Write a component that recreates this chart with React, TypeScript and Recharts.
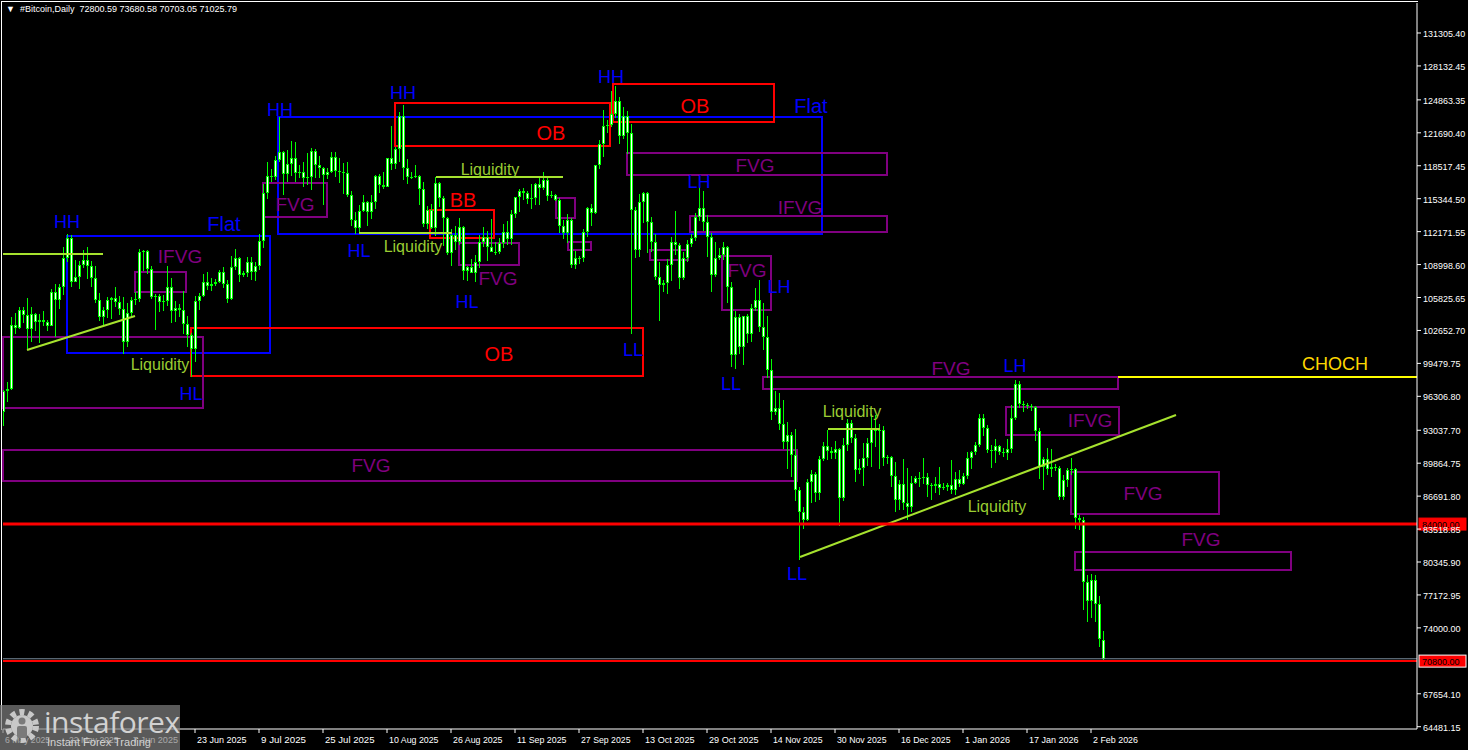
import React from "react";
import {
  ComposedChart,
  Bar,
  XAxis,
  YAxis,
  ReferenceArea,
  ReferenceLine,
  ReferenceDot,
} from "recharts";

const FONT = "'Liberation Sans', Arial, sans-serif";

// daily #Bitcoin candles, day 0 = 6 May 2025, prices in thousands of USD
const opens = [
  94.8, 96.8, 97.0, 103.2, 102.9, 104.6, 104.1, 102.8, 104.2, 103.5,
  103.7, 103.5, 103.1, 106.4, 105.6, 106.8, 109.6, 111.6, 107.3, 107.8,
  109.0, 109.4, 108.9, 107.7, 105.6, 103.9, 104.6, 105.6, 105.8, 105.4,
  104.7, 101.5, 104.3, 105.6, 105.7, 110.2, 110.3, 108.6, 105.9, 106.0,
  105.4, 105.5, 106.8, 104.5, 104.8, 104.6, 103.3, 102.2, 100.9, 105.5,
  106.0, 107.3, 106.9, 107.1, 107.3, 108.3, 107.1, 105.7, 108.8, 109.6,
  108.0, 108.2, 109.2, 108.3, 108.9, 111.3, 115.9, 117.5, 117.4, 119.1,
  119.8, 117.7, 118.7, 119.3, 117.8, 117.9, 117.3, 117.4, 119.9, 118.6,
  118.3, 117.6, 117.9, 119.4, 118.0, 117.9, 117.8, 115.7, 113.3, 112.5,
  114.2, 115.0, 114.1, 115.0, 117.5, 116.7, 116.5, 119.3, 118.7, 120.1,
  123.3, 118.3, 117.4, 117.4, 117.5, 116.3, 112.9, 114.3, 112.5, 116.9,
  115.4, 113.5, 110.1, 111.8, 111.2, 112.6, 108.4, 108.8, 108.2, 109.2,
  111.2, 111.7, 110.7, 110.2, 110.2, 111.1, 112.1, 111.5, 113.9, 115.5,
  116.1, 115.9, 115.3, 115.4, 116.8, 116.4, 117.1, 115.6, 115.7, 115.2,
  112.7, 112.0, 113.3, 109.0, 109.6, 109.6, 112.1, 114.4, 114.0, 118.6,
  120.6, 122.3, 122.4, 123.5, 124.8, 121.4, 123.3, 121.7, 114.3, 110.4,
  115.0, 115.9, 113.1, 111.2, 107.8, 107.0, 107.2, 109.0, 111.2, 110.9,
  107.7, 109.6, 111.0, 111.6, 113.6, 114.4, 113.1, 111.7, 108.0, 109.6,
  109.9, 110.7, 106.8, 100.3, 103.9, 101.1, 104.0, 102.3, 104.8, 105.6,
  103.0, 102.0, 98.8, 94.8, 95.2, 93.6, 91.9, 92.6, 90.7, 87.3,
  85.2, 84.4, 88.1, 88.8, 87.0, 90.3, 91.5, 91.0, 90.8, 91.2,
  86.5, 91.6, 93.7, 92.3, 89.2, 89.4, 90.4, 91.8, 93.3, 93.0,
  93.1, 90.4, 90.5, 88.6, 86.3, 87.9, 86.0, 85.6, 88.0, 88.4,
  88.4, 88.5, 87.8, 87.7, 87.9, 87.5, 87.6, 87.8, 87.3, 88.3,
  87.9, 88.6, 90.4, 90.9, 91.6, 94.2, 93.3, 91.1, 91.0, 91.5,
  90.9, 90.8, 91.2, 94.2, 97.5, 95.6, 95.5, 95.4, 95.3, 93.0,
  89.5, 90.3, 89.3, 89.5, 89.4, 86.6, 88.2, 89.2, 89.3, 84.6,
  84.4, 78.4, 76.6, 78.6, 76.3, 72.80059,
];

const highs = [
  96.9, 97.7, 103.9, 104.3, 104.9, 104.9, 105.8, 104.9, 104.3, 104.2,
  104.5, 103.7, 106.6, 107.1, 107.1, 110.7, 111.9, 111.8, 109.4, 109.3,
  110.4, 110.7, 109.3, 108.9, 106.3, 104.9, 105.9, 105.9, 106.8, 106.0,
  105.9, 105.3, 105.9, 106.4, 110.5, 110.4, 110.4, 108.9, 106.2, 106.2,
  106.1, 108.9, 107.7, 105.5, 105.2, 106.5, 104.0, 102.4, 106.0, 106.3,
  108.1, 108.3, 107.7, 107.6, 108.5, 108.8, 107.5, 109.8, 110.5, 109.7,
  108.4, 109.7, 109.7, 109.2, 111.9, 116.8, 118.9, 118.2, 119.5, 123.2,
  119.9, 120.0, 120.9, 120.8, 118.6, 118.9, 119.7, 120.2, 120.1, 119.5,
  118.4, 118.3, 119.8, 119.8, 119.3, 118.8, 118.9, 116.1, 114.1, 114.7,
  115.7, 115.1, 115.7, 117.6, 117.7, 117.9, 119.3, 122.3, 120.3, 123.7,
  124.4, 119.2, 117.9, 118.6, 117.6, 117.0, 114.6, 114.8, 117.4, 117.0,
  115.6, 113.6, 112.4, 112.7, 113.5, 112.7, 108.9, 109.5, 109.9, 111.8,
  112.6, 112.2, 113.4, 111.2, 111.6, 112.9, 113.2, 114.3, 115.5, 116.3,
  116.4, 116.1, 116.8, 116.9, 117.3, 117.9, 117.4, 116.1, 115.8, 115.4,
  113.3, 113.9, 113.5, 110.3, 109.8, 112.4, 114.5, 114.8, 118.6, 121.0,
  123.9, 122.9, 125.7, 126.2, 125.1, 124.2, 123.8, 122.5, 114.5, 115.8,
  116.0, 116.0, 113.6, 111.9, 109.2, 107.5, 109.5, 111.7, 114.2, 111.1,
  110.2, 111.4, 111.9, 114.0, 116.5, 116.1, 113.8, 112.0, 111.2, 110.6,
  111.2, 110.8, 107.3, 104.5, 104.2, 104.0, 104.2, 105.2, 106.7, 107.5,
  105.3, 104.0, 99.9, 96.8, 96.6, 96.0, 93.8, 92.9, 93.2, 87.6,
  85.6, 88.3, 89.2, 89.0, 90.6, 91.9, 93.1, 91.4, 92.0, 91.3,
  92.3, 94.1, 94.0, 92.7, 90.3, 91.8, 92.3, 94.6, 94.5, 93.6,
  93.4, 90.7, 90.6, 90.0, 88.2, 90.3, 89.4, 88.6, 88.6, 89.0,
  90.4, 88.9, 88.0, 88.5, 89.5, 88.0, 88.0, 90.2, 89.0, 89.2,
  88.9, 90.9, 91.0, 91.9, 94.6, 94.6, 93.5, 91.6, 92.2, 91.6,
  91.3, 92.2, 95.5, 97.9, 97.8, 95.9, 95.7, 95.6, 95.4, 93.3,
  90.5, 91.3, 91.2, 89.8, 89.6, 88.7, 89.4, 90.4, 89.4, 84.9,
  84.7, 79.1, 79.2, 79.1, 77.1, 73.68058,
];

const lows = [
  93.4, 95.8, 96.9, 102.3, 102.8, 103.4, 100.8, 101.5, 102.6, 101.4,
  103.1, 102.6, 103.1, 102.0, 104.7, 106.1, 109.2, 106.8, 107.3, 106.6,
  108.7, 107.6, 106.8, 105.3, 103.6, 103.1, 103.9, 103.8, 104.9, 104.2,
  100.4, 101.1, 103.9, 105.1, 105.4, 108.4, 108.1, 105.7, 102.7, 104.5,
  104.6, 105.0, 103.4, 103.5, 103.9, 102.4, 101.0, 98.2, 99.6, 104.7,
  105.9, 106.6, 106.4, 106.9, 107.2, 106.8, 105.3, 105.6, 108.5, 107.3,
  107.8, 107.8, 107.5, 107.4, 108.4, 110.6, 115.3, 116.9, 117.2, 118.9,
  115.7, 116.9, 117.5, 116.9, 117.3, 116.5, 116.6, 116.2, 117.3, 117.4,
  114.7, 117.2, 117.8, 117.4, 116.9, 115.8, 115.5, 112.7, 112.0, 112.0,
  114.1, 112.7, 113.4, 114.3, 115.9, 116.3, 116.5, 118.1, 118.2, 118.9,
  117.2, 116.8, 117.2, 117.3, 114.7, 112.7, 112.4, 112.4, 111.7, 114.6,
  110.8, 109.9, 108.8, 110.4, 110.9, 107.5, 107.5, 108.2, 107.3, 108.6,
  110.7, 109.3, 110.2, 109.9, 110.1, 110.6, 110.9, 110.9, 113.5, 114.1,
  115.2, 114.8, 114.4, 114.8, 114.7, 116.2, 115.1, 115.4, 115.1, 112.0,
  111.5, 111.1, 108.7, 108.6, 109.0, 109.2, 111.6, 112.7, 113.9, 118.2,
  119.4, 121.6, 122.2, 123.1, 120.6, 121.1, 119.7, 102.3, 109.6, 109.7,
  113.0, 110.1, 110.2, 107.5, 103.5, 106.3, 106.1, 107.5, 110.0, 106.7,
  107.5, 109.3, 110.6, 111.3, 113.2, 112.2, 109.8, 106.3, 107.8, 109.4,
  109.5, 105.3, 99.1, 98.9, 100.3, 99.3, 101.4, 101.5, 104.5, 102.5,
  100.8, 98.0, 94.0, 94.5, 93.0, 91.3, 89.3, 88.6, 86.3, 80.6,
  83.5, 84.3, 86.0, 86.1, 86.4, 90.1, 90.2, 90.2, 90.3, 83.8,
  86.2, 91.0, 91.8, 88.1, 88.9, 87.7, 89.6, 89.5, 91.4, 89.3,
  89.5, 89.8, 87.6, 85.2, 85.3, 85.4, 84.4, 85.1, 87.8, 87.6,
  87.9, 86.6, 86.4, 87.0, 86.8, 87.3, 87.2, 86.9, 86.8, 87.6,
  87.7, 88.3, 89.3, 90.6, 91.4, 92.5, 90.8, 89.4, 89.9, 90.6,
  90.4, 90.2, 90.9, 94.0, 95.2, 94.8, 95.1, 94.9, 92.0, 88.4,
  87.3, 88.7, 88.5, 89.1, 86.3, 86.3, 87.6, 88.8, 83.5, 83.5,
  75.7, 74.6, 75.0, 74.6, 72.2, 70.70305,
];

const closes = [
  96.8, 97.0, 103.2, 102.9, 104.6, 104.1, 102.8, 104.2, 103.5, 103.7,
  103.5, 103.1, 106.4, 105.6, 106.8, 109.6, 111.6, 107.3, 107.8, 109.0,
  109.4, 108.9, 107.7, 105.6, 103.9, 104.6, 105.6, 105.8, 105.4, 104.7,
  101.5, 104.3, 105.6, 105.7, 110.2, 110.3, 108.6, 105.9, 106.0, 105.4,
  105.5, 106.8, 104.5, 104.8, 104.6, 103.3, 102.2, 100.9, 105.5, 106.0,
  107.3, 106.9, 107.1, 107.3, 108.3, 107.1, 105.7, 108.8, 109.6, 108.0,
  108.2, 109.2, 108.3, 108.9, 111.3, 115.9, 117.5, 117.4, 119.1, 119.8,
  117.7, 118.7, 119.3, 117.8, 117.9, 117.3, 117.4, 119.9, 118.6, 118.3,
  117.6, 117.9, 119.4, 118.0, 117.9, 117.8, 115.7, 113.3, 112.5, 114.2,
  115.0, 114.1, 115.0, 117.5, 116.7, 116.5, 119.3, 118.7, 120.1, 123.3,
  118.3, 117.4, 117.4, 117.5, 116.3, 112.9, 114.3, 112.5, 116.9, 115.4,
  113.5, 110.1, 111.8, 111.2, 112.6, 108.4, 108.8, 108.2, 109.2, 111.2,
  111.7, 110.7, 110.2, 110.2, 111.1, 112.1, 111.5, 113.9, 115.5, 116.1,
  115.9, 115.3, 115.4, 116.8, 116.4, 117.1, 115.6, 115.7, 115.2, 112.7,
  112.0, 113.3, 109.0, 109.6, 109.6, 112.1, 114.4, 114.0, 118.6, 120.6,
  122.3, 122.4, 123.5, 124.8, 121.4, 123.3, 121.7, 114.3, 110.4, 115.0,
  115.9, 113.1, 111.2, 107.8, 107.0, 107.2, 109.0, 111.2, 110.9, 107.7,
  109.6, 111.0, 111.6, 113.6, 114.4, 113.1, 111.7, 108.0, 109.6, 109.9,
  110.7, 106.8, 100.3, 103.9, 101.1, 104.0, 102.3, 104.8, 105.6, 103.0,
  102.0, 98.8, 94.8, 95.2, 93.6, 91.9, 92.6, 90.7, 87.3, 85.2,
  84.4, 88.1, 88.8, 87.0, 90.3, 91.5, 91.0, 90.8, 91.2, 86.5,
  91.6, 93.7, 92.3, 89.2, 89.4, 90.4, 91.8, 93.3, 93.0, 93.1,
  90.4, 90.5, 88.6, 86.3, 87.9, 86.0, 85.6, 88.0, 88.4, 88.4,
  88.5, 87.8, 87.7, 87.9, 87.5, 87.6, 87.8, 87.3, 88.3, 87.9,
  88.6, 90.4, 90.9, 91.6, 94.2, 93.3, 91.1, 91.0, 91.5, 90.9,
  90.8, 91.2, 94.2, 97.5, 95.6, 95.5, 95.4, 95.3, 93.0, 89.5,
  90.3, 89.3, 89.5, 89.4, 86.6, 88.2, 89.2, 89.3, 84.6, 84.4,
  78.4, 76.6, 78.6, 76.3, 72.9, 71.02579,
];

const xTickDays = [0, 16, 32, 48, 64, 80, 96, 112, 128, 144, 160, 176, 192, 208, 224, 240, 256, 272];
const xTickLabels = [
  "6 May 2025", "22 May 2025", "7 Jun 2025", "23 Jun 2025", "9 Jul 2025", "25 Jul 2025",
  "10 Aug 2025", "26 Aug 2025", "11 Sep 2025", "27 Sep 2025", "13 Oct 2025", "29 Oct 2025",
  "14 Nov 2025", "30 Nov 2025", "16 Dec 2025", "1 Jan 2026", "17 Jan 2026", "2 Feb 2026",
];

const yTickLabels = [
  "64481.15", "67654.10", "74000.00", "77172.95", "80345.90", "83518.85", "86691.80",
  "89864.75", "93037.70", "96306.80", "99479.75", "102652.70", "105825.65", "108998.60",
  "112171.55", "115344.50", "118517.45", "121690.40", "124863.35", "128132.45", "131305.40",
];

const BLUE = "#0000ff";
const RED = "#ff0000";
const PURPLE = "#800080";
const LIME = "#9acd32";
const LIME_LINE = "#a6e22e";

// annotation boxes: [dayFrom, dayTo, priceTop, priceBottom, colour]
const zones: [number, number, number, number, string][] = [
  [16, 66.75, 111.75, 100.48, BLUE],
  [68.75, 204.75, 123.21, 111.94, BLUE],
  [98, 151.75, 124.56, 120.42, RED],
  [152.5, 192.75, 126.39, 122.73, RED],
  [47, 160, 102.89, 98.26, RED],
  [106.75, 122.75, 114.25, 111.56, RED],
  [65, 81, 116.86, 113.58, PURPLE],
  [33, 45.75, 108.28, 106.36, PURPLE],
  [114, 129, 111.08, 108.96, PURPLE],
  [138.25, 143, 115.41, 113.48, PURPLE],
  [141.25, 147, 111.17, 110.4, PURPLE],
  [156, 221, 119.75, 117.63, PURPLE],
  [171.75, 221, 113.68, 112.14, PURPLE],
  [161.75, 171.25, 110.4, 109.44, PURPLE],
  [179.75, 192, 109.82, 104.62, PURPLE],
  [0, 50, 102.02, 95.18, PURPLE],
  [190, 278.75, 98.17, 97.01, PURPLE],
  [0, 198.5, 91.14, 88.15, PURPLE],
  [250.75, 279, 95.28, 92.58, PURPLE],
  [267, 304, 89.02, 84.97, PURPLE],
  [268, 322, 81.31, 79.58, PURPLE],
];

// liquidity / trend segments: [day1, price1, day2, price2]
const segments: [number, number, number, number][] = [
  [0, 110.02, 25, 110.02],
  [6, 100.77, 33, 104.04],
  [108.25, 117.43, 140, 117.43],
  [89, 112.04, 112.25, 112.04],
  [206.25, 93.16, 219.25, 93.16],
  [199.25, 80.83, 293.25, 94.51],
];

// text tags: [text, day, price, colour, size]
const tags: [string, number, number, string, number][] = [
  ["HH", 16, 113.1, BLUE, 18],
  ["Flat", 55.25, 112.91, BLUE, 20],
  ["IFVG", 44.25, 109.73, PURPLE, 19],
  ["Liquidity", 39.25, 99.42, LIME, 16],
  ["HL", 47, 96.53, BLUE, 18],
  ["HH", 69.25, 123.89, BLUE, 18],
  ["FVG", 73, 114.74, PURPLE, 19],
  ["HH", 100, 125.52, BLUE, 18],
  ["OB", 137, 121.67, RED, 20],
  ["Liquidity", 121.75, 118.2, LIME, 16],
  ["BB", 115, 115.22, RED, 20],
  ["HL", 89, 110.31, BLUE, 18],
  ["Liquidity", 102.5, 110.7, LIME, 16],
  ["HL", 116, 105.39, BLUE, 18],
  ["FVG", 123.75, 107.7, PURPLE, 19],
  ["HH", 152, 127.07, BLUE, 18],
  ["OB", 173, 124.27, RED, 20],
  ["Flat", 202, 124.27, BLUE, 20],
  ["FVG", 188, 118.5, PURPLE, 19],
  ["LH", 174, 116.95, BLUE, 18],
  ["IFVG", 199.25, 114.45, PURPLE, 19],
  ["FVG", 186, 108.38, PURPLE, 19],
  ["LH", 194, 106.84, BLUE, 18],
  ["LL", 157.5, 100.77, BLUE, 18],
  ["LL", 182, 97.49, BLUE, 18],
  ["OB", 124, 100.38, RED, 20],
  ["FVG", 237, 98.94, PURPLE, 19],
  ["LH", 253, 99.23, BLUE, 18],
  ["IFVG", 271.75, 93.93, PURPLE, 19],
  ["Liquidity", 212.25, 94.8, LIME, 16],
  ["FVG", 92, 89.6, PURPLE, 19],
  ["FVG", 285, 86.99, PURPLE, 19],
  ["Liquidity", 248.5, 85.74, LIME, 16],
  ["FVG", 299.5, 82.56, PURPLE, 19],
  ["LL", 198.5, 79.19, BLUE, 18],
  ["CHOCH", 333, 99.42, "#ffd700", 18],
];

const candles = opens.map((o, i) => ({
  d: i,
  open: o,
  high: highs[i],
  low: lows[i],
  close: closes[i],
  range: [lows[i], highs[i]],
}));

function Candle(props: any) {
  const { x, y, width, height, payload } = props;
  if (x == null || y == null) return null;
  const { open, close, high, low } = payload;
  const cx = Math.round(x + width / 2);
  const span = high - low || 1;
  const py = (v: number) => y + ((high - v) / span) * height;
  const top = Math.round(py(Math.max(open, close)));
  const bot = Math.round(py(Math.min(open, close)));
  const bh = Math.max(bot - top, 1);
  return (
    <g shapeRendering="crispEdges">
      <rect x={cx} y={Math.round(y)} width={1} height={Math.max(Math.round(height), 1)} fill="#00ff00" />
      <rect x={cx - 1} y={top} width={3} height={bh} fill="#00ff00" />
      {bh > 2 && <rect x={cx} y={top + 1} width={1} height={bh - 2} fill="#ffffff" />}
    </g>
  );
}

function XTick(props: any) {
  const { x, y, payload } = props;
  const label = xTickLabels[xTickDays.indexOf(payload.value)] || "";
  return (
    <g>
      <line x1={x} x2={x} y1={y} y2={y + 4} stroke="#fff" />
      <text
        x={x + 2}
        y={y + 14}
        fill="#fff"
        fontSize={9}
        fontFamily={FONT}
        textLength={label.length * 4.5}
        lengthAdjust="spacingAndGlyphs"
      >
        {label}
      </text>
    </g>
  );
}

function YTick(props: any) {
  const { x, y, payload } = props;
  const idx = yTickLabels.findIndex((s) => Math.abs(parseFloat(s) / 1000 - payload.value) < 1e-6);
  const label = yTickLabels[idx] || "";
  return (
    <g>
      <line x1={x} x2={x + 4} y1={y} y2={y} stroke="#fff" />
      <text
        x={x + 6}
        y={y + 4}
        fill="#fff"
        fontSize={9}
        fontFamily={FONT}
        textLength={label.length * 4.7}
        lengthAdjust="spacingAndGlyphs"
      >
        {label}
      </text>
    </g>
  );
}

const priceTag = (text: string, border: string) => (props: any) => {
  const vb = props.viewBox || {};
  const x = (vb.x || 0) + (vb.width || 0) + 2;
  const y = vb.y || 0;
  return (
    <g>
      <rect x={x} y={y - 6} width={47} height={12} fill={RED} stroke={border} />
      <text
        x={x + 3}
        y={y + 4}
        fill="#000"
        fontSize={9}
        fontFamily={FONT}
        textLength={text.length * 4.7}
        lengthAdjust="spacingAndGlyphs"
      >
        {text}
      </text>
    </g>
  );
};

export default function App() {
  const yTicks = yTickLabels.map((s) => parseFloat(s) / 1000);
  return (
    <div style={{ position: "relative", width: 1468, height: 750, background: "#000", overflow: "hidden" }}>
      <style>{"body{margin:0;background:#000}"}</style>
      <div
        style={{
          position: "absolute",
          left: 1,
          top: 1,
          width: 1416,
          height: 728,
          borderLeft: "1px solid #fff",
          borderTop: "1px solid #fff",
          pointerEvents: "none",
        }}
      />
      <ComposedChart
        width={1468}
        height={750}
        data={candles}
        margin={{ top: 3, right: 0, bottom: 0, left: 3 }}
        barSize={3}
      >
        <XAxis
          dataKey="d"
          type="number"
          domain={[0, 353.5]}
          allowDataOverflow
          ticks={xTickDays}
          interval={0}
          height={21}
          tickSize={0}
          tickMargin={0}
          axisLine={{ stroke: "#fff" }}
          tickLine={false}
          tick={<XTick />}
        />
        <YAxis
          orientation="right"
          type="number"
          domain={[64.26, 134.195]}
          allowDataOverflow
          ticks={yTicks}
          interval={0}
          width={51}
          tickSize={0}
          tickMargin={0}
          axisLine={{ stroke: "#fff" }}
          tickLine={false}
          tick={<YTick />}
        />
        <Bar dataKey="range" shape={<Candle />} isAnimationActive={false} />
        {zones.map((z, i) => (
          <ReferenceArea
            key={"z" + i}
            x1={z[0]}
            x2={z[1]}
            y1={z[3]}
            y2={z[2]}
            fill="none"
            fillOpacity={0}
            stroke={z[4]}
            strokeWidth={2}
            ifOverflow="visible"
          />
        ))}
        {segments.map((s, i) => (
          <ReferenceLine
            key={"s" + i}
            segment={[
              { x: s[0], y: s[1] },
              { x: s[2], y: s[3] },
            ]}
            stroke={LIME_LINE}
            strokeWidth={2}
            ifOverflow="visible"
          />
        ))}
        <ReferenceLine
          segment={[
            { x: 278.75, y: 98.17 },
            { x: 353.5, y: 98.17 },
          ]}
          stroke="#ffff00"
          strokeWidth={2}
          ifOverflow="visible"
        />
        <ReferenceLine y={84.0} stroke={RED} strokeWidth={3} ifOverflow="visible" label={{ content: priceTag("84000.00", RED) }} />
        <ReferenceLine y={71.02579} stroke="#778899" strokeWidth={1} ifOverflow="visible" />
        <ReferenceLine y={70.8} stroke={RED} strokeWidth={2} ifOverflow="visible" label={{ content: priceTag("70800.00", "#ffffff") }} />
        {tags.map((t, i) => (
          <ReferenceDot
            key={"t" + i}
            x={t[1]}
            y={t[2]}
            r={0}
            ifOverflow="visible"
            shape={(p: any) => (
              <text
                x={p.cx}
                y={p.cy}
                fill={t[3]}
                fontSize={t[4]}
                fontFamily={FONT}
                textAnchor="middle"
                dominantBaseline="central"
              >
                {t[0]}
              </text>
            )}
          />
        ))}
      </ComposedChart>
      <div
        style={{
          position: "absolute",
          left: 6,
          top: 4,
          color: "#fff",
          fontFamily: FONT,
          fontSize: 9,
          whiteSpace: "pre",
        }}
      >
        {"\u25BC  #Bitcoin,Daily  72800.59 73680.58 70703.05 71025.79"}
      </div>
      <div
        style={{
          position: "absolute",
          left: 0,
          top: 705,
          width: 180,
          height: 45,
          background: "rgba(128,128,128,0.7)",
        }}
      >
        <svg width={44} height={45} style={{ position: "absolute", left: 2, top: 0 }}>
          <circle cx={20} cy={21} r={14} fill="none" stroke="#c8c8c8" strokeWidth={6} strokeDasharray="5 4" />
          <circle cx={20} cy={21} r={11} fill="#c8c8c8" />
          <circle cx={20} cy={16} r={3.5} fill="#7a7a7a" />
          <rect x={15} y={21} width={10} height={12} rx={2} fill="#7a7a7a" />
        </svg>
        <div
          style={{
            position: "absolute",
            left: 44,
            top: -4,
            fontFamily: "'Open Sans', sans-serif",
            fontSize: 30,
            color: "#d2d2d2",
            letterSpacing: -0.5,
          }}
        >
          instaforex
        </div>
        <div
          style={{
            position: "absolute",
            left: 47,
            top: 31,
            fontFamily: FONT,
            fontSize: 11,
            color: "#d2d2d2",
          }}
        >
          Instant Forex Trading
        </div>
      </div>
    </div>
  );
}
